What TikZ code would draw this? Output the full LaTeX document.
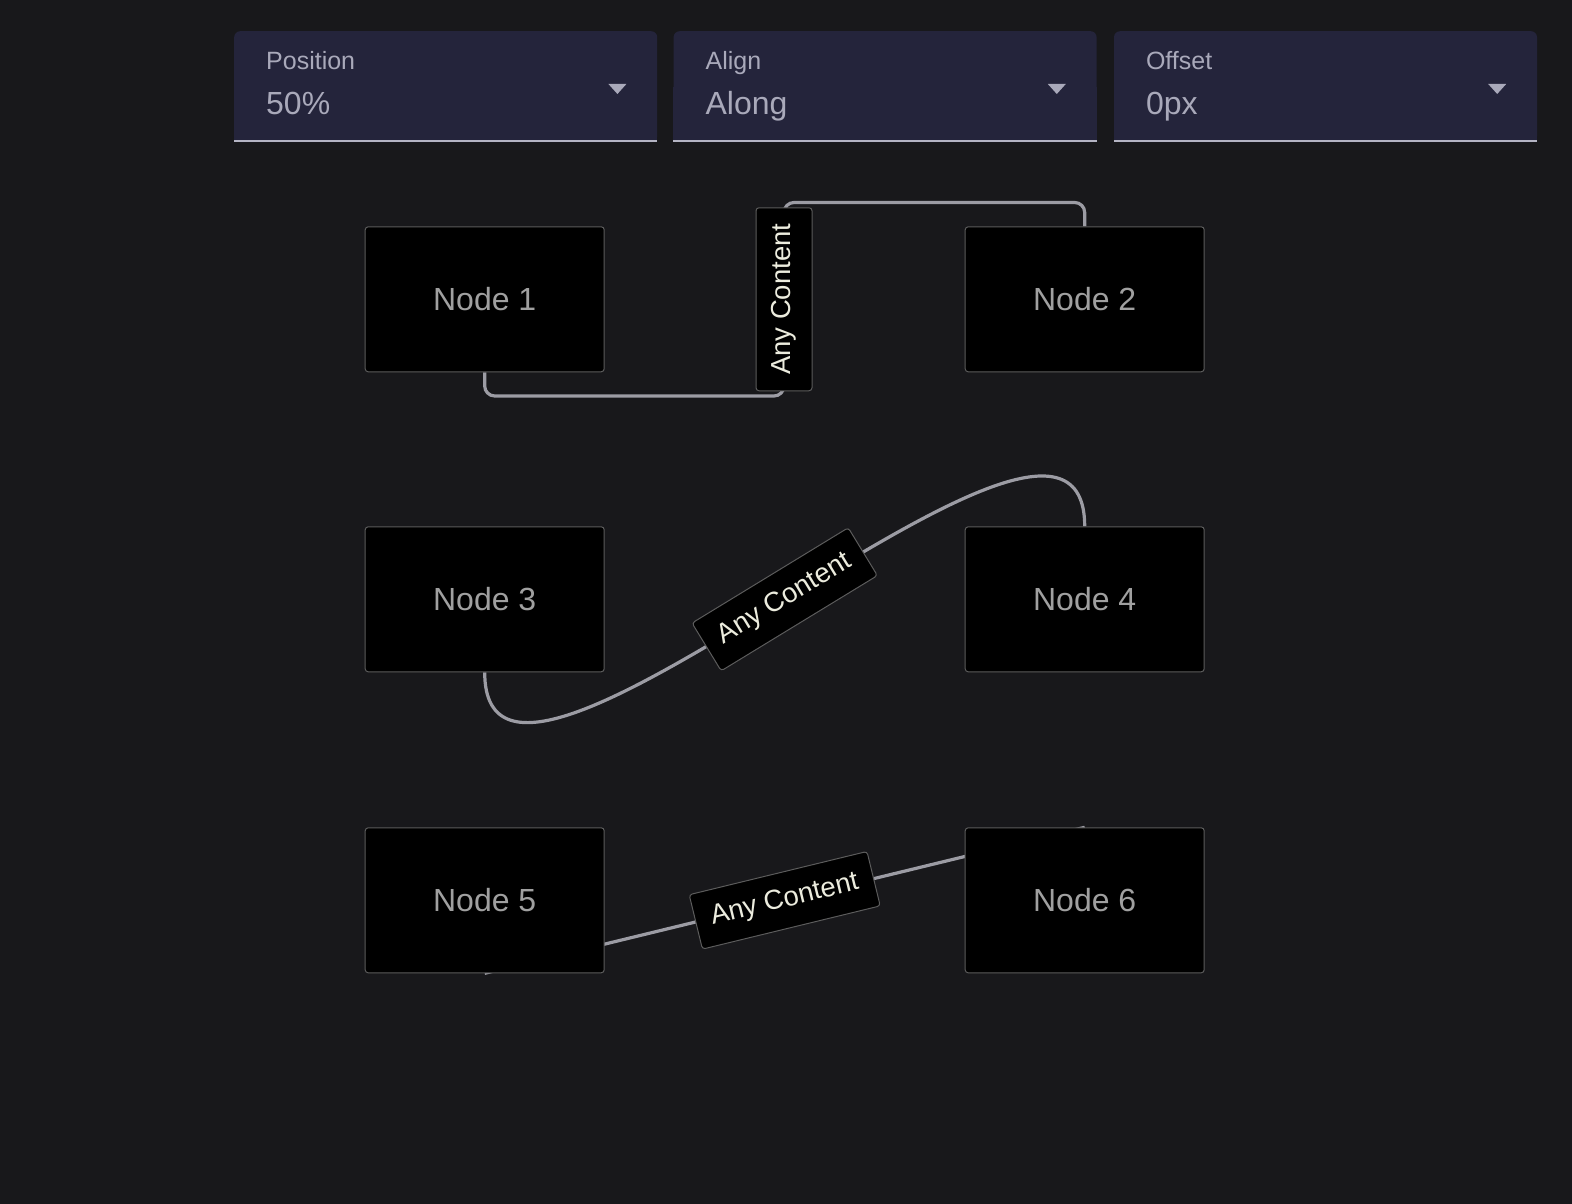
\documentclass[tikz,border=0pt]{standalone}
\usepackage{fontspec}
\setmainfont{Liberation Sans}
\usetikzlibrary{positioning}
\definecolor{pagebg}{HTML}{18181B}
\definecolor{panelbg}{HTML}{24243B}
\definecolor{paneltext}{HTML}{A9A9BA}
\definecolor{panelline}{HTML}{B4B4C4}
\definecolor{nodeline}{HTML}{5C5C5C}
\definecolor{nodetext}{HTML}{A0A0A0}
\definecolor{edgeline}{HTML}{9C9CA4}
\definecolor{tagtext}{HTML}{ECECDE}
\pgfdeclarelayer{bg}
\pgfdeclarelayer{edges}
\pgfsetlayers{bg,edges,main}
\begin{document}
\begin{tikzpicture}[x=1pt, y=-1pt,
  panelbox/.style={fill=panelbg, rounded corners=6pt, minimum width=423pt, minimum height=111pt, inner sep=0pt, anchor=north west},
  fieldcap/.style={text=paneltext, font=\fontsize{25}{29}\selectfont, anchor=base west, inner sep=0pt},
  fieldval/.style={text=paneltext, font=\fontsize{32}{38}\selectfont, anchor=base west, inner sep=0pt},
  nodebox/.style={draw=nodeline, line width=1pt, fill=black, rounded corners=3pt, minimum width=239pt, minimum height=145pt, inner sep=0pt, text=nodetext, font=\fontsize{32}{37}\selectfont},
  link/.style={draw=edgeline, line width=3.2pt},
  tagbox/.style={draw=nodeline, line width=1pt, fill=black, rounded corners=3pt, minimum width=183pt, minimum height=56pt, inner sep=0pt, text=tagtext, font=\fontsize{27.5}{32}\selectfont, sloped, midway}]
		\useasboundingbox (0,0) rectangle (1572,1204);
		\begin{pgfonlayer}{bg}
		\fill[pagebg] (0,0) rectangle (1572,1204);
		\end{pgfonlayer}
		
		% option panels
		\node (p1) [panelbox] at (234,31) {};
		\node (p2) [panelbox, right=16pt of p1] {};
		\node (p3) [panelbox, right=17pt of p2] {};
		\fill[panelbg] (p1.west) rectangle (p1.south east);
		\fill[panelbg] (p2.west) rectangle (p2.south east);
		\fill[panelbg] (p3.west) rectangle (p3.south east);
		\draw[panelline, line width=2pt] ([yshift=1pt]p1.south west) -- ([yshift=1pt]p1.south east);
		\draw[panelline, line width=2pt] ([yshift=1pt]p2.south west) -- ([yshift=1pt]p2.south east);
		\draw[panelline, line width=2pt] ([yshift=1pt]p3.south west) -- ([yshift=1pt]p3.south east);
		
		\node (p1cap) [fieldcap] at ([shift={(32,39)}]p1.north west) {Position};
		\node (p1val) [fieldval] at ([shift={(32,83.5)}]p1.north west) {50\%};
		\node (p2cap) [fieldcap] at ([shift={(32,39)}]p2.north west) {Align};
		\node (p2val) [fieldval] at ([shift={(32,83.5)}]p2.north west) {Along};
		\node (p3cap) [fieldcap] at ([shift={(32,39)}]p3.north west) {Offset};
		\node (p3val) [fieldval] at ([shift={(32,83.5)}]p3.north west) {0px};
		
		\fill[paneltext] ([shift={(-49,53)}]p1.north east) -- ++(18,0) -- ++(-9,10) -- cycle;
		\fill[paneltext] ([shift={(-49,53)}]p2.north east) -- ++(18,0) -- ++(-9,10) -- cycle;
		\fill[paneltext] ([shift={(-49,53)}]p3.north east) -- ++(18,0) -- ++(-9,10) -- cycle;
		
		% flow nodes
		\node (n1) [nodebox] at (484.7,299.3) {Node 1};
		\node (n2) [nodebox, right=360pt of n1] {Node 2};
		\node (n3) [nodebox, below=154pt of n1] {Node 3};
		\node (n4) [nodebox, right=360pt of n3] {Node 4};
		\node (n5) [nodebox, below=155pt of n3] {Node 5};
		\node (n6) [nodebox, right=360pt of n5] {Node 6};
		
		% edges
		\coordinate (b1) at (784,396);
		\coordinate (b2) at (784,202.5);
		\begin{pgfonlayer}{edges}
		\draw[link, rounded corners=10pt] (n1.south) |- (b1) -- node[tagbox]{Any Content} (b2) -| (n2.north);
		\draw[link] (n3.south) .. controls ([yshift=-220pt]n3.south) and ([yshift=220pt]n4.north) .. node[tagbox]{Any Content} (n4.north);
		\draw[link] (n5.south) -- node[tagbox]{Any Content} (n6.north);
		\end{pgfonlayer}
		\end{tikzpicture}
\end{document}
